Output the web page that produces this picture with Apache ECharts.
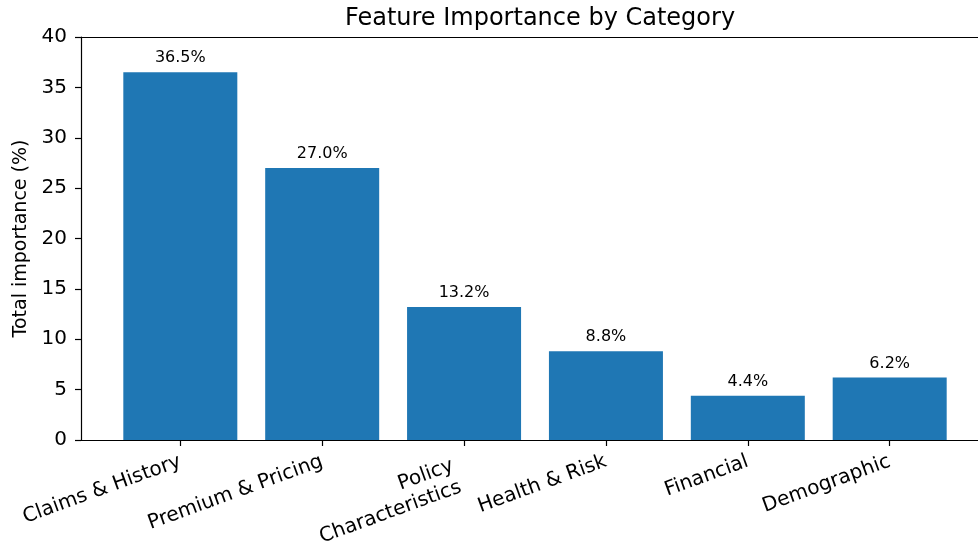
<!DOCTYPE html>
<html>
<head>
<meta charset="utf-8">
<script src="https://cdn.jsdelivr.net/npm/echarts@6/dist/echarts.min.js"></script>
<style>
  html, body { margin: 0; padding: 0; background: #fff; }
  #chart { width: 978px; height: 546px; }
</style>
</head>
<body>
<div id="chart"></div>
<script>
  // data
  const categories = ['Claims & History', 'Premium & Pricing', 'Policy\nCharacteristics', 'Health & Risk', 'Financial', 'Demographic']
  const importance = [36.5, 27.0, 13.2, 8.8, 4.4, 6.2]
  const yTicks = [0, 5, 10, 15, 20, 25, 30, 35, 40]
  const positions = categories.map((_, i) => i)

  const font = 'DejaVu Sans'
  const chart = echarts.init(document.getElementById('chart'))

  // multi-line labels hang from their first line (like matplotlib va=top)
  const formatCategory = (v) => {
    const name = categories[Math.round(v)]
    if (!name.includes('\n')) return name
    return '{e|}\n' + name.split('\n').map((s) => `{m|${s}}`).join('\n')
  }

  const option = {
    animation: false,
    backgroundColor: '#fff',
    textStyle: { fontFamily: font },
    title: {
      text: 'Feature Importance by Category',
      left: 535,
      top: 2,
      textAlign: 'center',
      textStyle: { fontFamily: font, fontSize: 24, fontWeight: 'normal', color: '#000' }
    },
    grid: {
      left: 81,
      top: 37,
      width: 908,
      bottom: 106,
      containLabel: false,
      outerBoundsMode: 'none'
    },
    xAxis: [
      {
        type: 'value',
        min: -0.7,
        max: 5.7,
        splitLine: { show: false },
        axisLine: { onZero: false, lineStyle: { color: '#000', width: 1.2 } },
        axisTick: { show: true, length: 6, lineStyle: { color: '#000', width: 1.2 }, customValues: positions },
        axisLabel: {
          customValues: positions,
          rotate: 20,
          margin: 21,
          fontFamily: font,
          fontSize: 20,
          color: '#000',
          lineHeight: 23,
          formatter: formatCategory,
          rich: {
            e: { fontSize: 20, lineHeight: 23 },
            m: { fontFamily: font, fontSize: 20, lineHeight: 23, color: '#000', padding: [0, 12, 0, 0] }
          }
        }
      },
      {
        type: 'value',
        position: 'top',
        min: -0.7,
        max: 5.7,
        splitLine: { show: false },
        axisLine: { show: true, onZero: false, lineStyle: { color: '#000', width: 1.2 } },
        axisTick: { show: false },
        axisLabel: { show: false }
      }
    ],
    yAxis: {
      type: 'value',
      min: 0,
      max: 40,
      interval: 5,
      name: 'Total importance (%)',
      nameLocation: 'middle',
      nameGap: 49,
      nameTextStyle: { fontFamily: font, fontSize: 19, color: '#000' },
      splitLine: { show: false },
      axisLine: { show: true, onZero: false, lineStyle: { color: '#000', width: 1.2 } },
      axisTick: { show: true, length: 6, lineStyle: { color: '#000', width: 1.2 } },
      axisLabel: {
        fontFamily: font,
        fontSize: 20,
        color: '#000',
        margin: 14,
        customValues: yTicks
      }
    },
    series: [
      {
        type: 'bar',
        barWidth: 114,
        itemStyle: { color: '#1f77b4' },
        label: {
          show: true,
          position: 'top',
          distance: 6,
          fontFamily: font,
          fontSize: 16,
          color: '#000',
          formatter: (p) => p.value[1].toFixed(1) + '%'
        },
        data: positions.map((x, i) => [x, importance[i]])
      }
    ]
  }

  chart.setOption(option)
</script>
</body>
</html>
